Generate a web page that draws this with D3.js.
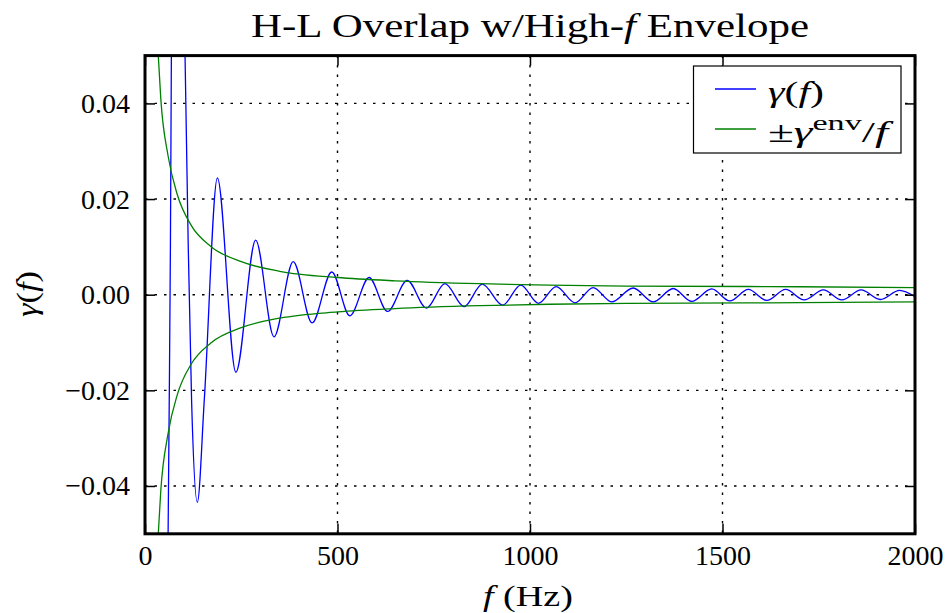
<!DOCTYPE html>
<html>
<head>
<meta charset="utf-8">
<script src="https://cdn.jsdelivr.net/npm/d3@7"></script>
<style>
  body { margin: 0; background: #fff; }
  text { font-family: "Liberation Serif", serif; fill: #000; }
</style>
</head>
<body>
<div id="chart"></div>
<script>
// overlap function, read at crossings of the frame and at each peak / trough
const gammaF = [45, 60, 63, 66, 68.5, 86, 104, 112.5, 121, 136, 154, 188, 236, 287.5, 335, 385, 434, 485,
  532, 582, 630, 681, 731, 779, 829, 876, 929, 976, 1022, 1068, 1117, 1164, 1212, 1268, 1320,
  1372, 1420, 1472, 1519, 1567, 1615, 1664, 1712, 1762, 1810, 1860, 1910, 1960, 2000];
const gammaV = [-0.3, -0.05, -0.022, 0.01, 0.05, 0.2, 0.05, 0.0094, -0.022, -0.0434, -0.022, 0.0244, -0.0162, 0.0114, -0.0088, 0.0069, -0.0059, 0.00475,
  -0.0044, 0.0036, -0.0035, 0.0030, -0.0028, 0.0023, -0.0025, 0.0022, -0.0022, 0.0020, -0.0018, 0.0017, -0.0017, 0.0015, -0.0015, 0.0014, -0.0015,
  0.0013, -0.0014, 0.0012, -0.0013, 0.0011, -0.0012, 0.0011, -0.0011, 0.0010, -0.0011, 0.0010, -0.0010, 0.0009, -0.0004];

// upper envelope (lower one is its mirror)
const envF = [25, 34.5, 41, 60, 84, 120, 171, 250, 350, 500, 650, 870, 1050, 1250, 1620, 2000];
const envV = [0.068, 0.05, 0.041, 0.029, 0.0209, 0.0145, 0.0101, 0.0069, 0.0049, 0.0036, 0.0029, 0.0023, 0.0020, 0.0018, 0.0017, 0.0015];

const xTicks = [0, 500, 1000, 1500, 2000];
const yTicks = [-0.04, -0.02, 0, 0.02, 0.04];

const width = 947, height = 613;
const box = { left: 145, right: 915, top: 55.6, bottom: 533.8 };

const svg = d3.select('#chart').append('svg').attr('width', width).attr('height', height);

const x = d3.scaleLinear().domain([0, 2000]).range([box.left, box.right]);
const y = d3.scaleLinear().domain([-0.05, 0.05]).range([box.bottom, box.top]);

svg.append('clipPath').attr('id', 'clip')
  .append('rect').attr('x', box.left).attr('y', box.top)
  .attr('width', box.right - box.left).attr('height', box.bottom - box.top);

// grid
const grid = svg.append('g').attr('stroke', '#000').attr('stroke-width', 1.4).attr('stroke-dasharray', '2.5,7');
grid.selectAll('.gx').data(xTicks.slice(1, -1)).enter().append('line')
  .attr('x1', d => x(d)).attr('x2', d => x(d)).attr('y1', box.top).attr('y2', box.bottom);
grid.selectAll('.gy').data(yTicks).enter().append('line')
  .attr('x1', box.left).attr('x2', box.right).attr('y1', d => y(d)).attr('y2', d => y(d));

// curves
const line = d3.line().x(d => x(d[0])).y(d => y(d[1])).curve(d3.curveMonotoneX);
const plot = svg.append('g').attr('clip-path', 'url(#clip)').attr('fill', 'none');
plot.append('path').datum(gammaF.map((f, i) => [f, gammaV[i]]))
  .attr('d', line).attr('stroke', '#0000ff').attr('stroke-width', 1.3);
plot.append('path').datum(envF.map((f, i) => [f, envV[i]]))
  .attr('d', line).attr('stroke', '#008000').attr('stroke-width', 1.3);
plot.append('path').datum(envF.map((f, i) => [f, -envV[i]]))
  .attr('d', line).attr('stroke', '#008000').attr('stroke-width', 1.3);

// axes, ticks inward on all four sides
const fmt = d3.format('.2f');
const xb = svg.append('g').attr('transform', 'translate(0,' + box.bottom + ')')
  .call(d3.axisBottom(x).tickValues(xTicks).tickSize(-10).tickPadding(11).tickFormat(d3.format('d')));
const xt = svg.append('g').attr('transform', 'translate(0,' + box.top + ')')
  .call(d3.axisTop(x).tickValues(xTicks).tickSize(-10).tickFormat(''));
const yl = svg.append('g').attr('transform', 'translate(' + box.left + ',0)')
  .call(d3.axisLeft(y).tickValues(yTicks).tickSize(-10).tickPadding(15).tickFormat(fmt));
const yr = svg.append('g').attr('transform', 'translate(' + box.right + ',0)')
  .call(d3.axisRight(y).tickValues(yTicks).tickSize(-10).tickFormat(''));
[xb, xt, yl, yr].forEach(g => {
  g.select('.domain').remove();
  g.selectAll('.tick line').attr('stroke', '#000').attr('stroke-width', 1.5);
  g.selectAll('.tick text').style('font-family', '"Liberation Serif", serif').style('font-size', '28px').attr('fill', '#000');
});

svg.append('rect').attr('x', box.left).attr('y', box.top)
  .attr('width', box.right - box.left).attr('height', box.bottom - box.top)
  .attr('fill', 'none').attr('stroke', '#000').attr('stroke-width', 3);

// title and axis labels (stretched a little toward the wider TeX look)
const title = svg.append('text').attr('x', (box.left + box.right) / 2).attr('y', 37)
  .attr('text-anchor', 'middle').attr('textLength', 558).attr('lengthAdjust', 'spacingAndGlyphs')
  .style('font-size', '33px');
title.append('tspan').text('H-L Overlap w/High-');
title.append('tspan').style('font-style', 'italic').text('f');
title.append('tspan').text(' Envelope');

const xl = svg.append('text').attr('x', 528).attr('y', 606)
  .attr('text-anchor', 'middle').attr('textLength', 90).attr('lengthAdjust', 'spacingAndGlyphs')
  .style('font-size', '30px');
xl.append('tspan').style('font-style', 'italic').text('f');
xl.append('tspan').text(' (Hz)');

const ylab = svg.append('text').attr('transform', 'translate(37,294) rotate(-90)')
  .attr('text-anchor', 'middle').attr('textLength', 46).attr('lengthAdjust', 'spacingAndGlyphs')
  .style('font-size', '30px');
ylab.append('tspan').style('font-style', 'italic').text('γ');
ylab.append('tspan').text('(');
ylab.append('tspan').style('font-style', 'italic').text('f');
ylab.append('tspan').text(')');

// legend
const lg = svg.append('g');
lg.append('rect').attr('x', 693.5).attr('y', 66).attr('width', 207.5).attr('height', 87)
  .attr('fill', '#fff').attr('stroke', '#000').attr('stroke-width', 1.2);
lg.append('line').attr('x1', 715).attr('x2', 756).attr('y1', 89).attr('y2', 89)
  .attr('stroke', '#0000ff').attr('stroke-width', 1.3);
lg.append('line').attr('x1', 715).attr('x2', 756).attr('y1', 129).attr('y2', 129)
  .attr('stroke', '#008000').attr('stroke-width', 1.3);
const t1 = lg.append('text').attr('x', 768).attr('y', 102)
  .attr('textLength', 56).attr('lengthAdjust', 'spacingAndGlyphs').style('font-size', '29px');
t1.append('tspan').style('font-style', 'italic').text('γ');
t1.append('tspan').text('(');
t1.append('tspan').style('font-style', 'italic').text('f');
t1.append('tspan').text(')');
const t2 = lg.append('text').attr('x', 768).attr('y', 142)
  .attr('textLength', 120).attr('lengthAdjust', 'spacingAndGlyphs').style('font-size', '29px');
t2.append('tspan').text('±');
t2.append('tspan').style('font-style', 'italic').text('γ');
t2.append('tspan').attr('dy', -12).style('font-size', '21px').text('env');
t2.append('tspan').attr('dy', 12).text('/');
t2.append('tspan').style('font-style', 'italic').text('f');
</script>
</body>
</html>
